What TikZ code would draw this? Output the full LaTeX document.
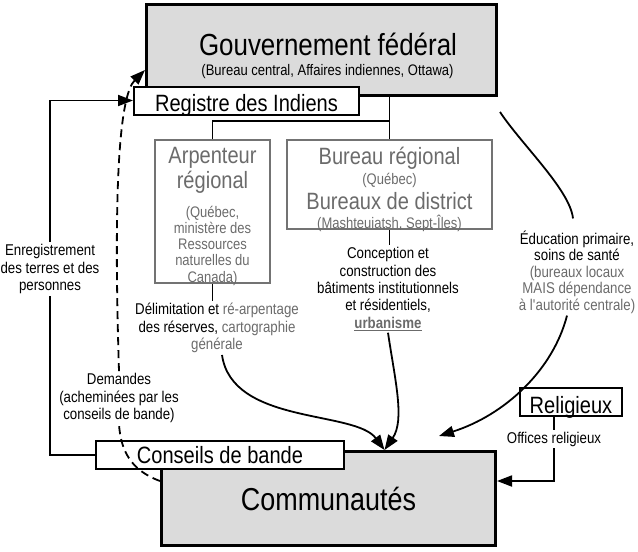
\documentclass[tikz,border=0pt]{standalone}
\usepackage{fontspec}
\setmainfont{Liberation Sans}[FakeStretch=0.85]
\usetikzlibrary{arrows.meta}
\definecolor{txtgray}{gray}{0.42}
\definecolor{boxgray}{gray}{0.45}
\definecolor{boxfill}{gray}{0.86}
\newcommand{\titlefont}{\fontsize{30.5}{32}\selectfont}
\newcommand{\commfont}{\fontsize{31.7}{33}\selectfont}
\newcommand{\boxfont}{\fontsize{23.6}{25}\selectfont}
\newcommand{\subfont}{\fontsize{15.3}{16.3}\selectfont}
\newcommand{\lblfont}{\fontsize{15.6}{17.4}\selectfont}
\setlength{\lineskiplimit}{-50pt}

\begin{document}
\begin{tikzpicture}[x=1pt, y=-1pt]
    \tikzstyle{bbox} = [draw=black, line width=3pt, fill=boxfill, inner sep=0pt, text depth=0pt]
    \tikzstyle{wbox} = [draw=black, line width=2pt, fill=white, inner sep=0pt, text depth=0pt, font=\boxfont]
    \tikzstyle{gbox} = [draw=boxgray, line width=1.6pt, inner sep=0pt]
    \tikzstyle{gtxt} = [text=txtgray, align=center, inner sep=0pt, font=\subfont]
    \tikzstyle{lbl} = [align=center, inner sep=2pt, font=\lblfont]
    \tikzstyle{conn} = [line width=1.8pt]
    \tikzstyle{arr} = [line width=1.8pt, -{Triangle[length=15pt,width=11pt]}]
    \tikzstyle{dashline} = [line width=1.8pt, dash pattern=on 8pt off 5pt]
    \useasboundingbox (0,0) rectangle (638,552);

    % federal level
    \node[bbox, minimum width=350pt, minimum height=91pt] (gov) at (321.5,50) {};
    \node[anchor=base, font=\titlefont] (govt) at (328,55) {Gouvernement fédéral};
    \node[anchor=base, font=\subfont] (govs) at (327.5,75.5) {(Bureau central, Affaires indiennes, Ottawa)};
    \node[wbox, minimum width=225pt, minimum height=28pt, text height=22pt] (reg) at (246.5,100.5) {Registre des Indiens};

    % regional offices
    \coordinate (split) at (389.5,121);
    \node[gbox, minimum width=115.4pt, minimum height=143.4pt] (arp) at (212.5,211.5) {};
    \node[gtxt] (arpt) at (212.5,216.5) {{\boxfont Arpenteur}\\[8.7pt]{\boxfont régional}\\[12pt](Québec,\\ministère des\\Ressources\\naturelles du\\Canada)};
    \node[gbox, minimum width=205.4pt, minimum height=89.4pt] (bur) at (389.5,184.5) {};
    \node[gtxt] (burt) at (389.5,189.5) {{\boxfont Bureau régional}\\[3.7pt](Québec)\\[9.2pt]{\boxfont Bureaux de district}\\[2.5pt](Mashteuiatsh, Sept-Îles)};
    \draw[conn] (bur.north |- gov.south) -- (bur.north);
    \draw[conn] (arp.north) |- (split);

    % services
    \node[lbl] (delim) at (217,328) {Délimitation et {\color{txtgray}ré-arpentage}\\des réserves, {\color{txtgray}cartographie}\\{\color{txtgray}générale}};
    \node[lbl] (conc) at (388,289) {Conception et\\construction des\\bâtiments institutionnels\\et résidentiels,\\{\color{txtgray}\bfseries\underline{urbanisme}}};
    \node[lbl] (educ) at (577,272) {Éducation primaire,\\[-0.9pt]soins de santé\\[-0.9pt]{\color{txtgray}(bureaux locaux}\\[-0.9pt]{\color{txtgray}MAIS dépendance}\\[-0.9pt]{\color{txtgray}à l\textquotesingle{}autorité centrale)}};
    \draw[conn] (arp.south) -- (arp.south |- delim.north);
    \draw[conn] (bur.south) -- (bur.south |- conc.north);

    % communities
    \node[bbox, minimum width=334pt, minimum height=94pt, text height=23pt, font=\commfont] (comm) at (328.5,498.5) {Communautés};
    \node[wbox, minimum width=248pt, minimum height=28pt, text height=16pt] (cons) at (220,455) {Conseils de bande};
    \node[wbox, minimum width=102pt, minimum height=28pt, text height=23pt] (rel) at (571,402) {Religieux};
    \node[lbl] (enr) at (50,269) {Enregistrement\\des terres et des\\personnes};
    \node[lbl] (dem) at (119,398) {Demandes\\(acheminées par les\\conseils de bande)};
    \node[lbl] (off) at (554,439) {Offices religieux};

    \draw[arr] ([xshift=5pt]delim.south) .. controls (232,425) and (355,410) .. ([xshift=56pt]comm.north);
    \draw[arr] (conc.south) .. controls (395,380) and (405,420) .. ([xshift=56pt]comm.north);
    \draw[arr] ([xshift=-10pt]educ.south) .. controls (553,370) and (505,415) .. ([xshift=-58pt,yshift=14pt]comm.north east);
    \draw[conn] ([xshift=2pt,yshift=-15pt]gov.south east) .. controls (522,145) and (570,190) .. ([xshift=-4pt,yshift=10pt]educ.north);

    \draw[conn] (cons.west) -| (enr.south);
    \draw[arr] (enr.north) |- (reg.west);
    \draw[dashline] ([yshift=17.5pt]comm.west) .. controls (130,470) and (121,450) .. (dem.south);
    \draw[dashline, arr] (dem.north) .. controls (113,180) and (120,95) .. ([yshift=-20pt]gov.west);
    \draw[conn] (off.north |- rel.south) -- (off.north);
    \draw[arr] (off.south) |- ([yshift=17.5pt]comm.east);
\end{tikzpicture}
\end{document}
